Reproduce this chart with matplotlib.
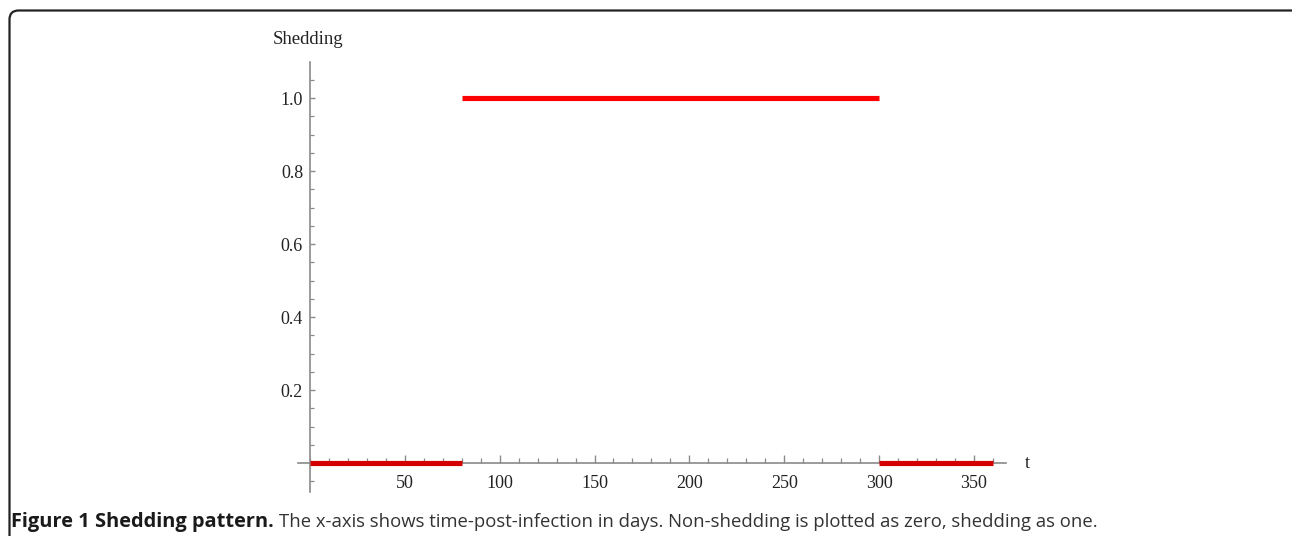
import matplotlib
matplotlib.use("Agg")
import matplotlib.pyplot as plt
from matplotlib.patches import FancyBboxPatch
from matplotlib.transforms import IdentityTransform
from matplotlib.ticker import MultipleLocator, FixedLocator

# Data: shedding pattern (piecewise segments)
seg_start = [0, 80, 300]
seg_end = [80, 300, 360]
seg_value = [0, 1, 0]
x_ticks = [50, 100, 150, 200, 250, 300, 350]
y_ticks = [0.2, 0.4, 0.6, 0.8, 1.0]

W, H = 1292, 536
fig = plt.figure(figsize=(W / 100, H / 100), dpi=100)
fig.patch.set_facecolor("white")

# rounded frame (open at bottom, beyond canvas) in pixel coords (origin bottom-left)
frame = FancyBboxPatch((9.5, -60), 1291 - 9.5 + 12, (H - 10.5) + 60,
                       boxstyle="round,pad=0,rounding_size=9",
                       transform=IdentityTransform(), fill=False,
                       edgecolor="#222222", linewidth=1.6)
fig.patches.append(frame)

# axes placement in pixels
x0px, x1px = 298, 1006
y_top, y_bot = 62, 492
ax = fig.add_axes([x0px / W, (H - y_bot) / H, (x1px - x0px) / W, (y_bot - y_top) / H])
ax.set_xlim(-6.3, 366.9)
ax.set_ylim(-0.0795, 1.099)
ax.patch.set_alpha(0)

for s in ["top", "right"]:
    ax.spines[s].set_visible(False)
ax.spines["left"].set_position(("data", 0))
ax.spines["bottom"].set_position(("data", 0))
axis_col = "#8a8a8a"
for s in ["left", "bottom"]:
    ax.spines[s].set_color(axis_col)
    ax.spines[s].set_linewidth(1.2)

ax.xaxis.set_major_locator(FixedLocator(x_ticks))
ax.xaxis.set_minor_locator(MultipleLocator(10))
ax.yaxis.set_major_locator(FixedLocator(y_ticks))
ax.yaxis.set_minor_locator(MultipleLocator(0.05))
ax.set_xticklabels([str(v) for v in x_ticks])
ax.set_yticklabels([f"{v:.1f}" for v in y_ticks])

serif = ["Liberation Serif", "DejaVu Serif"]
ax.tick_params(axis="x", which="major", direction="in", length=6, width=1, color=axis_col,
               pad=9, labelsize=13, labelcolor="#222222")
ax.tick_params(axis="x", which="minor", direction="in", length=3.5, width=0.9, color=axis_col)
ax.tick_params(axis="y", which="major", direction="in", length=3.5, width=1, color=axis_col,
               pad=5, labelsize=13, labelcolor="#222222")
ax.tick_params(axis="y", which="minor", direction="in", length=3, width=0.9, color=axis_col)
for lab in ax.get_xticklabels() + ax.get_yticklabels():
    lab.set_fontfamily(serif)

colors = ["#d40000", "#ff0000", "#d40000"]
for xs, xe, v, c in zip(seg_start, seg_end, seg_value, colors):
    ax.plot([xs, xe], [v, v], color=c, linewidth=3.7, solid_capstyle="butt", zorder=3)

# axis labels
fig.text(273 / W, 1 - 40 / H, "Shedding", family=serif, fontsize=13.5, color="#222222",
         va="center", ha="left")
fig.text(1025 / W, 1 - 463 / H, "t", family=serif, fontsize=13, color="#222222",
         va="center", ha="left")

# caption
cap_y = 1 - 527 / H
t1 = fig.text(11 / W, cap_y, "Figure 1 Shedding pattern.", family=["Open Sans", "DejaVu Sans"],
              fontweight="bold", fontsize=14.4, color="#1a1a1a", va="baseline", ha="left")
fig.canvas.draw()
bb = t1.get_window_extent()
fig.text((bb.x1 + 5) / W, cap_y,
         "The x-axis shows time-post-infection in days. Non-shedding is plotted as zero, shedding as one.",
         family=["Open Sans", "DejaVu Sans"], fontsize=13.3, color="#333333", va="baseline", ha="left")

fig.savefig("out.png", dpi=100, facecolor="white")
